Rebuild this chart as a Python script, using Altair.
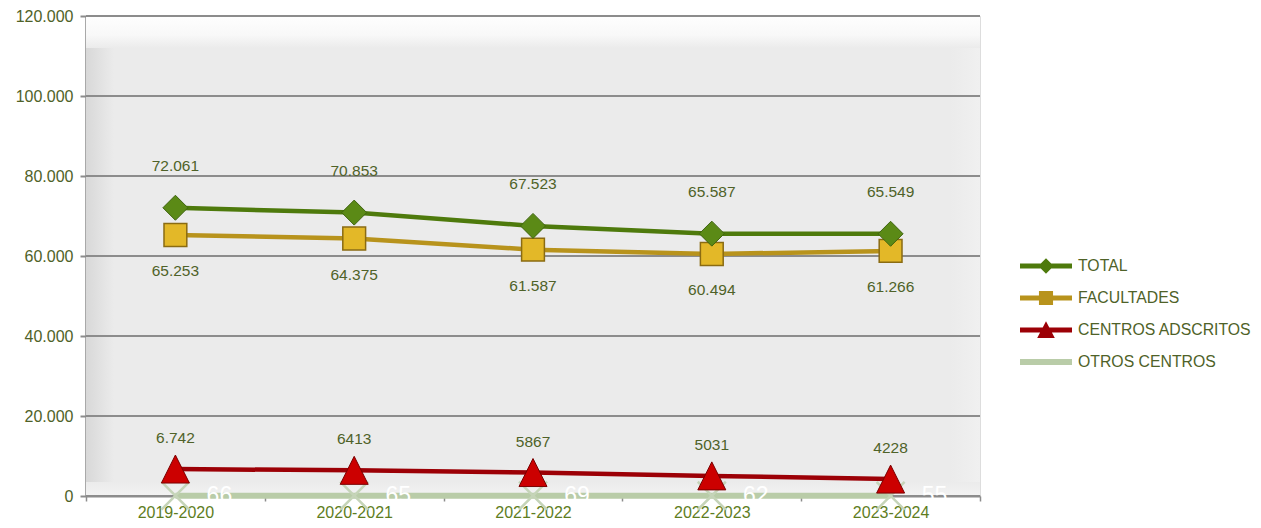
import altair as alt
import pandas as pd

periods = ["2019-2020", "2020-2021", "2021-2022", "2022-2023", "2023-2024"]
series_names = ["TOTAL", "FACULTADES", "CENTROS ADSCRITOS", "OTROS CENTROS"]

total = [72061, 70853, 67523, 65587, 65549]
facultades = [65253, 64375, 61587, 60494, 61266]
centros = [6742, 6413, 5867, 5031, 4228]
otros = [66, 65, 69, 62, 55]

total_labels = ["72.061", "70.853", "67.523", "65.587", "65.549"]
fac_labels = ["65.253", "64.375", "61.587", "60.494", "61.266"]
cen_labels = ["6.742", "6413", "5867", "5031", "4228"]
otros_labels = ["66", "65", "69", "62", "55"]

y_ticks = [0, 20000, 40000, 60000, 80000, 100000, 120000]

FONT = "Liberation Sans"
TXT = "#4F6228"
XLAB = "#5E7D1E"
GRID = "#8C8C8C"

rows = []
for name, vals, labs in zip(series_names,
                            [total, facultades, centros, otros],
                            [total_labels, fac_labels, cen_labels, otros_labels]):
    for p, v, l in zip(periods, vals, labs):
        rows.append({"periodo": p, "serie": name, "valor": v, "etiqueta": l})
df = pd.DataFrame(rows)

x_enc = alt.X(
    "periodo:N", sort=periods,
    scale=alt.Scale(type="band", paddingInner=0, paddingOuter=0),
    axis=alt.Axis(title=None, labelAngle=0, tickBand="extent", labelFont=FONT,
                  labelFontSize=16, labelColor=XLAB, labelPadding=3, tickSize=5,
                  tickColor=GRID, tickWidth=1.5, domainColor=GRID, domainWidth=2,
                  grid=False),
)
y_scale = alt.Scale(domain=[0, 120000], nice=False, zero=True)
y_enc = alt.Y(
    "valor:Q", scale=y_scale,
    axis=alt.Axis(title=None, values=y_ticks,
                  labelExpr="replace(format(datum.value, ','), ',', '.')",
                  labelFont=FONT, labelFontSize=16, labelColor=TXT, labelPadding=7,
                  tickSize=6, tickColor=GRID, tickWidth=2, domainColor=GRID,
                  domainWidth=2.5, grid=False),
)

base = alt.Chart(df).encode(x=x_enc, y=y_enc)

one = pd.DataFrame({"k": [0]})


def grad(x2, y2, stops):
    return alt.LinearGradient(
        gradient="linear", x1=0, y1=0, x2=x2, y2=y2,
        stops=[alt.GradientStop(color=c, offset=o) for o, c in stops])


# plot-area background with a bevel-like frame
bg = alt.Chart(one).mark_rect(fill="#EBEBEB").encode(
    x=alt.value(0), x2=alt.value("width"), y=alt.value(0), y2=alt.value("height"))
bevel_left = alt.Chart(one).mark_rect(
    fill=grad(1, 0, [(0, "#D8D8D8"), (1, "#EBEBEB")])
).encode(x=alt.value(0), x2=alt.value(28), y=alt.value(0), y2=alt.value("height"))
bevel_right = alt.Chart(one).mark_rect(
    fill=grad(1, 0, [(0, "#EBEBEB"), (1, "#F0F0F0")])
).encode(x=alt.value(864), x2=alt.value("width"), y=alt.value(0), y2=alt.value("height"))
bevel_bottom = alt.Chart(one).mark_rect(
    fill=grad(0, 1, [(0, "#EBEBEB"), (1, "#F2F2F2")])
).encode(x=alt.value(0), x2=alt.value("width"), y=alt.value(466), y2=alt.value("height"))
bevel_top = alt.Chart(one).mark_rect(
    fill=grad(0, 1, [(0, "#FEFEFE"), (0.6, "#F8F8F8"), (1, "#EBEBEB")])
).encode(x=alt.value(0), x2=alt.value("width"), y=alt.value(0), y2=alt.value(32))

grid = alt.Chart(pd.DataFrame({"valor": y_ticks})).mark_rule(
    color=GRID, strokeWidth=2
).encode(y=alt.Y("valor:Q", scale=y_scale))

layers = [bg, bevel_left, bevel_right, bevel_bottom, bevel_top, grid]

styles = {
    "OTROS CENTROS": dict(line="#B9CCA8", lw=6,
                          shape="M-1,-1L1,1M-1,1L1,-1", size=784, filled=False,
                          fill="#C5D4B8", stroke="#C5D4B8", sw=2.5),
    "CENTROS ADSCRITOS": dict(line="#9C0006", lw=4.5,
                              shape="M0,-1L1,1L-1,1Z", size=784, filled=True,
                              fill="#CC0000", stroke="#7A0000", sw=1),
    "FACULTADES": dict(line="#B8931C", lw=4.5,
                       shape="square", size=520, filled=True,
                       fill="#E3B828", stroke="#8A6B12", sw=1.5),
    "TOTAL": dict(line="#4E7A0C", lw=4.5,
                  shape="diamond", size=625, filled=True,
                  fill="#5B8A16", stroke="#3F6410", sw=1),
}

for name in ["OTROS CENTROS", "CENTROS ADSCRITOS", "FACULTADES", "TOTAL"]:
    s = styles[name]
    sub = base.transform_filter(alt.datum.serie == name)
    layers.append(sub.mark_line(color=s["line"], strokeWidth=s["lw"]))
    if s["filled"]:
        layers.append(sub.mark_point(shape=s["shape"], size=s["size"], filled=True,
                                     fill=s["fill"], stroke=s["stroke"],
                                     strokeWidth=s["sw"], opacity=1))
    else:
        layers.append(sub.mark_point(shape=s["shape"], size=s["size"], filled=False,
                                     stroke=s["stroke"], strokeWidth=s["sw"], opacity=1))

label_cfg = {
    "TOTAL": dict(dy=-42, dx=0, color=TXT, size=15.5),
    "FACULTADES": dict(dy=36, dx=0, color=TXT, size=15.5),
    "CENTROS ADSCRITOS": dict(dy=-31, dx=0, color=TXT, size=15.5),
    "OTROS CENTROS": dict(dy=0, dx=44, color="#FFFFFF", size=23),
}
for name, c in label_cfg.items():
    layers.append(
        base.transform_filter(alt.datum.serie == name).mark_text(
            font=FONT, fontSize=c["size"], color=c["color"], dy=c["dy"], dx=c["dx"],
            align="center", baseline="middle",
        ).encode(text="etiqueta:N")
    )

legend_colors = ["#4E7A0C", "#B8931C", "#9C0006", "#B9CCA8"]
legend_paths = [
    "M-1.625,-0.15H1.625V0.15H-1.625Z M0,-0.48L0.48,0L0,0.48L-0.48,0Z",
    "M-1.625,-0.15H1.625V0.15H-1.625Z M-0.44,-0.44H0.44V0.44H-0.44Z",
    "M-1.625,-0.15H1.625V0.15H-1.625Z M0,-0.55L0.55,0.5H-0.55Z",
    "M-1.625,-0.19H1.625V0.19H-1.625Z",
]
leg = alt.Legend(title=None, orient="none", legendX=944, legendY=234,
                 symbolSize=1024, symbolStrokeWidth=0, rowPadding=8, labelOffset=16,
                 labelFont=FONT, labelFontSize=15.8, labelColor=TXT, symbolOpacity=1,
                 padding=0, labelLimit=400)
legend_layer = alt.Chart(df).transform_filter("false").mark_point(filled=True, opacity=1).encode(
    x=x_enc, y=y_enc,
    color=alt.Color("serie:N", scale=alt.Scale(domain=series_names, range=legend_colors), legend=leg),
    shape=alt.Shape("serie:N", scale=alt.Scale(domain=series_names, range=legend_paths), legend=leg),
)
layers.append(legend_layer)

chart = alt.layer(*layers).properties(
    width=894, height=480,
    autosize=alt.AutoSizeParams(type="none"),
    padding={"left": 78, "top": 8, "right": 273, "bottom": 30},
).configure_view(stroke=None).configure(background="white")

chart.save("out.html", embed_options={"renderer": "svg", "actions": False})
